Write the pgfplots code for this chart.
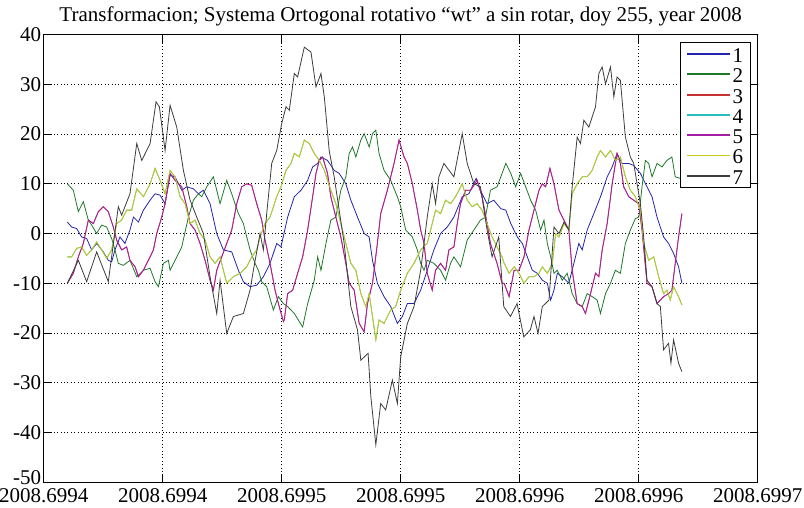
\documentclass[border=0pt]{standalone}
\usepackage{fontspec}
\setmainfont{Liberation Serif}
\usepackage{pgfplots}
\usepackage{pgfplotstable}
\pgfplotsset{compat=1.18}

\definecolor{lineA}{RGB}{35,35,175}
\definecolor{lineB}{RGB}{30,120,40}
\definecolor{lineC}{RGB}{200,50,50}
\definecolor{lineD}{RGB}{40,190,190}
\definecolor{lineE}{RGB}{165,30,165}
\definecolor{lineF}{RGB}{205,200,20}
\definecolor{lineG}{RGB}{60,60,60}

% x is measured in tick intervals (0 = 2008.6994, 6 = 2008.6997)
\pgfplotstableread{
x y
0.199 2.3
0.235 1.3
0.277 1.0
0.319 -0.7
0.361 -1.0
0.403 -3.3
0.445 -2.0
0.501 -3.7
0.543 -5.4
0.571 -5.7
0.599 -3.3
0.641 -0.7
0.683 -2.0
0.725 0.7
0.754 3.3
0.796 2.3
0.838 4.7
0.894 6.7
0.936 8.0
0.978 7.7
1.020 6.0
1.062 11.7
1.104 11.4
1.160 8.7
1.202 9.4
1.258 9.0
1.300 8.0
1.342 8.7
1.398 6.0
1.454 0.0
1.510 -3.3
1.580 -3.7
1.636 -7.4
1.678 -9.7
1.734 -10.7
1.790 -10.4
1.846 -8.7
1.902 -6.0
1.958 -2.0
1.994 -2.7
2.050 3.3
2.106 7.4
2.162 8.7
2.218 10.7
2.260 13.4
2.302 14.1
2.330 15.4
2.385 14.7
2.441 12.7
2.483 12.1
2.539 10.0
2.581 6.7
2.637 3.3
2.693 0.0
2.735 -0.7
2.763 -5.4
2.804 -10.0
2.860 -12.7
2.916 -14.7
2.972 -18.1
3.014 -16.7
3.056 -14.1
3.112 -14.1
3.168 -11.4
3.223 -7.4
3.279 -3.3
3.335 0.0
3.391 1.3
3.447 3.3
3.517 7.4
3.573 8.0
3.634 11.1
3.670 8.7
3.726 6.0
3.782 6.7
3.841 5.0
3.883 4.7
3.925 2.0
3.980 -0.7
4.022 -2.0
4.064 -4.7
4.106 -7.4
4.148 -8.0
4.190 -9.4
4.232 -10.0
4.260 -13.4
4.288 -11.4
4.316 -8.0
4.358 -8.7
4.413 -10.0
4.455 -6.0
4.497 -2.0
4.525 -3.3
4.567 0.7
4.623 4.0
4.679 7.4
4.735 11.4
4.777 13.4
4.818 16.1
4.860 14.1
4.916 14.1
4.958 13.7
5.014 12.1
5.070 9.4
5.112 7.4
5.154 3.3
5.209 -0.7
5.251 -2.0
5.293 -4.0
5.335 -6.7
5.363 -10.0
}\seriesA

\pgfplotstableread{
x y
0.199 10.0
0.249 8.7
0.291 4.4
0.333 6.4
0.375 2.7
0.403 1.7
0.445 0.0
0.487 1.7
0.529 1.3
0.571 -1.0
0.599 -3.3
0.627 -6.0
0.669 -6.4
0.725 -5.4
0.782 -8.7
0.838 -7.4
0.894 -7.0
0.936 -9.7
0.964 -10.7
1.006 -6.0
1.048 -5.4
1.062 -7.4
1.104 -5.4
1.160 -2.7
1.216 3.3
1.258 6.7
1.300 8.0
1.328 7.4
1.370 9.4
1.426 11.4
1.482 6.0
1.538 10.7
1.580 8.0
1.636 4.0
1.678 2.0
1.734 -3.3
1.776 -6.0
1.804 -7.4
1.832 -9.7
1.874 -10.7
1.930 -15.4
1.972 -12.7
2.014 -14.1
2.050 -14.7
2.106 -16.1
2.176 -18.8
2.218 -14.1
2.274 -9.4
2.302 -4.7
2.330 -7.4
2.372 -2.0
2.413 2.7
2.455 3.3
2.497 8.7
2.539 11.4
2.567 16.1
2.595 17.4
2.623 15.4
2.665 18.8
2.693 20.1
2.735 17.4
2.763 20.1
2.791 20.8
2.818 16.1
2.860 12.7
2.916 10.7
2.972 7.4
3.000 5.4
3.042 0.7
3.098 -0.7
3.140 -3.3
3.168 -6.0
3.196 -7.4
3.223 -5.4
3.279 -6.0
3.335 -7.4
3.377 -9.4
3.419 -6.0
3.447 -4.7
3.503 -6.7
3.559 -1.3
3.615 0.7
3.670 2.7
3.712 3.3
3.754 8.7
3.810 9.4
3.852 12.1
3.883 14.1
3.925 12.1
3.966 9.4
4.008 12.1
4.050 9.4
4.092 6.7
4.134 4.7
4.176 0.7
4.204 2.7
4.232 -2.0
4.260 -4.7
4.288 -8.0
4.316 -7.4
4.358 -9.4
4.399 -8.0
4.441 -12.1
4.483 -14.1
4.525 -14.7
4.567 -12.1
4.609 -12.7
4.651 -13.4
4.679 -16.1
4.721 -12.1
4.763 -10.0
4.804 -7.4
4.846 -8.0
4.888 -2.0
4.930 0.7
4.972 3.0
5.000 3.3
5.028 9.4
5.056 14.7
5.084 14.1
5.112 11.4
5.154 14.1
5.196 13.4
5.237 14.7
5.279 15.4
5.307 11.4
5.349 11.1
}\seriesB

\pgfplotstableread{
x y
0.199 -10.0
0.249 -8.0
0.291 -4.7
0.333 -2.0
0.375 2.7
0.417 2.0
0.459 4.4
0.501 5.4
0.543 4.4
0.585 1.3
0.613 -1.3
0.655 -3.3
0.697 -2.7
0.725 -5.4
0.768 -6.7
0.796 -8.7
0.838 -7.4
0.894 -4.7
0.922 -3.3
0.950 0.0
0.992 3.3
1.020 6.0
1.062 12.1
1.104 10.7
1.160 9.4
1.202 5.4
1.230 2.0
1.272 0.7
1.314 -2.0
1.356 -5.4
1.398 -9.4
1.426 -11.4
1.454 -7.4
1.496 -4.7
1.538 -2.0
1.580 0.7
1.622 6.0
1.664 9.4
1.706 10.0
1.748 9.7
1.790 6.0
1.832 2.7
1.860 -1.3
1.902 -6.0
1.944 -11.4
1.972 -14.1
2.014 -17.7
2.022 -17.4
2.050 -12.1
2.092 -11.4
2.134 -8.0
2.176 -4.7
2.218 0.7
2.260 7.4
2.288 12.1
2.316 14.7
2.344 15.4
2.385 12.1
2.413 7.4
2.455 3.3
2.497 -0.7
2.539 -6.0
2.567 -10.0
2.609 -11.4
2.651 -18.1
2.693 -19.8
2.721 -14.1
2.763 -10.0
2.804 -2.0
2.832 4.0
2.888 8.7
2.944 14.1
2.986 18.8
3.028 15.4
3.056 14.1
3.098 10.0
3.140 4.7
3.168 0.7
3.196 -2.0
3.223 -8.0
3.265 -11.4
3.293 -7.4
3.335 -6.0
3.377 -7.4
3.405 -3.3
3.447 -2.7
3.475 2.0
3.503 6.0
3.545 8.7
3.587 8.7
3.642 10.7
3.684 7.4
3.726 2.0
3.754 -2.0
3.810 -6.0
3.852 -10.0
3.869 -10.0
3.911 -12.7
3.953 -7.4
3.994 -7.4
4.036 -4.7
4.078 0.7
4.120 4.7
4.162 8.7
4.190 10.0
4.218 9.4
4.254 13.1
4.288 10.0
4.330 4.7
4.372 2.7
4.413 0.7
4.441 -7.4
4.483 -14.1
4.525 -14.7
4.553 -16.1
4.595 -12.1
4.637 -8.0
4.665 -8.7
4.693 -3.3
4.735 2.0
4.777 10.0
4.818 16.1
4.846 14.1
4.874 9.4
4.916 7.4
4.958 6.7
5.000 6.0
5.028 0.7
5.070 -10.0
5.112 -10.7
5.154 -14.1
5.209 -12.7
5.251 -12.1
5.279 -11.4
5.307 -6.0
5.335 -0.7
5.363 4.0
}\seriesE

\pgfplotstableread{
x y
0.199 -4.7
0.235 -4.7
0.277 -3.0
0.319 -2.7
0.361 -4.4
0.403 -3.3
0.445 -1.7
0.487 -3.3
0.529 -5.0
0.571 -3.3
0.613 2.0
0.655 2.7
0.697 4.7
0.739 4.7
0.782 9.0
0.838 7.4
0.894 10.0
0.936 13.1
0.978 10.7
1.020 8.0
1.062 12.7
1.104 11.4
1.146 7.4
1.188 6.0
1.230 2.0
1.272 2.7
1.314 0.0
1.356 -1.3
1.398 -4.7
1.440 -6.0
1.482 -4.7
1.538 -10.0
1.594 -8.7
1.650 -8.0
1.706 -6.7
1.748 -4.7
1.790 -3.3
1.818 -0.7
1.860 2.0
1.902 3.3
1.958 7.4
1.994 9.4
2.036 12.7
2.078 14.1
2.106 16.1
2.148 15.4
2.190 18.8
2.232 18.1
2.274 16.1
2.316 14.7
2.358 12.7
2.413 8.7
2.455 6.0
2.497 2.0
2.539 -2.0
2.581 -6.0
2.623 -7.4
2.665 -12.1
2.707 -14.7
2.735 -12.1
2.763 -16.7
2.791 -21.4
2.818 -17.4
2.860 -18.1
2.916 -15.4
2.958 -14.7
3.000 -11.4
3.056 -8.0
3.112 -6.0
3.168 -3.3
3.223 -2.0
3.265 2.0
3.293 4.7
3.335 4.0
3.377 6.7
3.419 6.0
3.461 7.4
3.517 10.0
3.559 6.7
3.601 5.4
3.642 6.0
3.684 4.7
3.726 2.0
3.768 -0.7
3.810 -2.7
3.852 -4.7
3.869 -6.0
3.911 -8.0
3.953 -6.7
3.994 -8.0
4.036 -10.0
4.078 -8.7
4.120 -8.7
4.162 -8.0
4.190 -6.7
4.232 -8.0
4.274 -6.0
4.302 0.0
4.330 -0.7
4.372 2.0
4.413 0.7
4.441 8.0
4.483 10.0
4.525 11.4
4.567 11.4
4.609 12.7
4.651 15.4
4.679 16.7
4.721 15.4
4.763 16.7
4.804 14.7
4.846 15.4
4.888 11.4
4.930 8.7
4.972 7.4
5.014 4.7
5.042 -2.0
5.084 -5.4
5.126 -4.7
5.168 -8.7
5.209 -12.1
5.237 -11.4
5.265 -13.4
5.293 -10.7
5.335 -12.7
5.363 -14.4
}\seriesF

\pgfplotstableread{
x y
0.199 -10.0
0.291 -5.4
0.361 -9.7
0.445 -3.7
0.543 -9.7
0.627 5.4
0.655 3.7
0.725 8.0
0.782 18.1
0.824 14.7
0.894 18.1
0.944 26.5
0.972 25.5
1.020 16.7
1.062 25.8
1.118 21.4
1.174 12.7
1.230 6.7
1.286 3.3
1.342 0.0
1.398 -8.7
1.454 -16.1
1.482 -9.4
1.538 -20.1
1.594 -16.7
1.678 -16.1
1.734 -11.4
1.762 -7.4
1.818 0.0
1.846 -3.3
1.874 4.0
1.916 14.1
1.958 16.7
2.000 22.1
2.036 25.5
2.064 24.8
2.106 32.2
2.134 31.5
2.190 37.5
2.246 36.5
2.288 29.5
2.330 32.2
2.358 27.5
2.399 16.7
2.441 11.4
2.483 4.7
2.525 -2.0
2.581 -14.7
2.637 -19.4
2.665 -25.5
2.726 -24.1
2.749 -32.8
2.791 -42.5
2.832 -34.2
2.874 -35.5
2.930 -29.5
2.972 -34.2
3.000 -24.8
3.056 -18.1
3.112 -14.7
3.168 -7.4
3.223 3.3
3.265 10.0
3.293 6.0
3.321 11.4
3.363 14.1
3.447 11.4
3.517 20.1
3.559 14.1
3.615 10.0
3.670 9.4
3.726 0.7
3.768 -4.7
3.824 -0.7
3.866 -14.7
3.922 -16.7
3.978 -14.1
4.034 -20.8
4.089 -19.4
4.120 -16.7
4.154 -20.1
4.190 -14.7
4.246 -13.4
4.288 1.3
4.330 0.0
4.372 2.3
4.413 0.7
4.441 9.4
4.483 19.4
4.511 18.1
4.539 22.8
4.581 21.4
4.637 25.5
4.665 32.2
4.693 33.5
4.721 30.1
4.763 33.5
4.791 27.5
4.818 31.5
4.846 30.8
4.888 19.4
4.930 15.4
4.958 14.1
5.014 6.0
5.042 -0.7
5.070 -9.4
5.112 -10.7
5.154 -14.1
5.182 -14.7
5.209 -23.4
5.251 -22.1
5.271 -26.1
5.293 -21.4
5.335 -26.1
5.363 -27.8
}\seriesG

\begin{document}
\begin{tikzpicture}[font=\fontsize{21bp}{23bp}\selectfont]
\useasboundingbox (-43.7bp,-26bp) rectangle (760.3bp,482bp);
\begin{axis}[
  scale only axis,
  width=714bp, height=447.3bp,
  xmin=0, xmax=6, ymin=-50, ymax=40,
  xtick={0,1,2,3,4,5,6},
  xticklabels={2008.6994,2008.6994,2008.6995,2008.6995,2008.6996,2008.6996,2008.6997},
  ytick={-40,-30,-20,-10,0,10,20,30,40},
  yticklabels={-40,-30,-20,-10,0,10,20,30,40},
  extra y ticks={-50},
  extra y tick labels={-50},
  extra y tick style={grid=none, yticklabel style={yshift=4bp}},
  xticklabel style={yshift=-3.5bp},
  yticklabel style={xshift=1bp},
  tick align=inside,
  major tick length=8bp,
  every tick/.style={black, line width=0.8bp},
  axis line style={black, line width=0.9bp},
  grid=major,
  major grid style={black, line width=0.7bp, dash pattern=on 0.8bp off 2.6bp},
  title={Transformacion; Systema Ortogonal rotativo “wt” a sin rotar, doy 255, year 2008},
  title style={yshift=-1bp},
  legend style={
    at={(rel axis cs:1,1)}, anchor=north east,
    xshift=-6.7bp, yshift=-7.3bp,
    draw=black, line width=0.8bp, fill=white,
    inner xsep=6bp, inner ysep=1.5bp, row sep=0pt,
    nodes={inner sep=1.5bp, text height=17bp, text depth=0.3bp},
  },
  legend cell align=left,
  legend image code/.code={\draw[#1, line width=1.8bp] (0bp,0bp) -- (43bp,0bp);},
  every axis plot/.append style={line width=0.8bp},
]
\addplot[lineA] table {\seriesA};
\addplot[lineB] table {\seriesB};
\addplot[lineC] table {\seriesE};
\addplot[lineD] table {\seriesF};
\addplot[lineE] table {\seriesE};
\addplot[lineF] table {\seriesF};
\addplot[lineG] table {\seriesG};
\legend{1,2,3,4,5,6,7}
\end{axis}
\end{tikzpicture}
\end{document}
